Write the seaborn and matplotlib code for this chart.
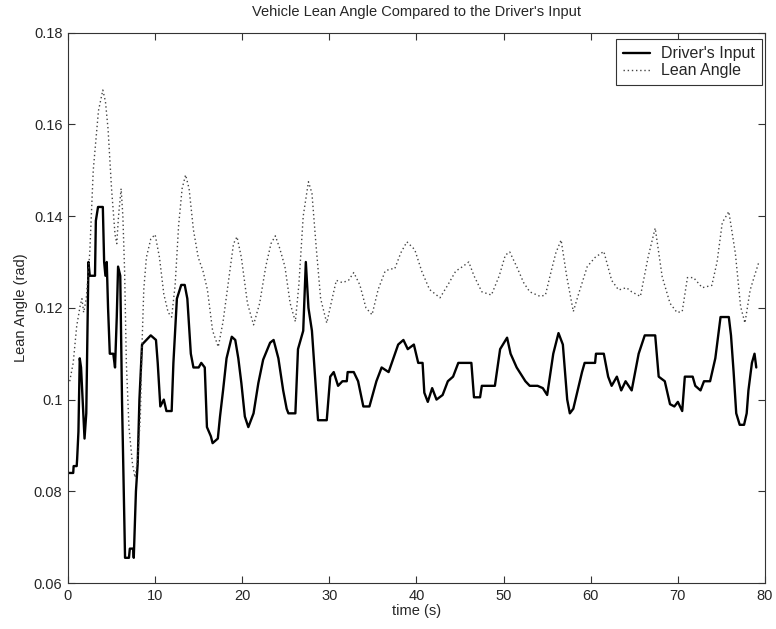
import matplotlib
matplotlib.use("Agg")
import matplotlib.pyplot as plt
import pandas as pd
import seaborn as sns

# Driver's input (solid)
drv_t = [0, 0.6, 0.65, 1.0, 1.05, 1.2, 1.35, 1.5, 1.9, 2.1, 2.35, 2.5, 3.1, 3.2, 3.45, 4.0,
         4.15, 4.3, 4.45, 4.6, 4.8, 5.2, 5.4, 5.6, 5.75, 6.0, 6.2, 6.55, 7.0, 7.1, 7.5, 7.55,
         7.8, 8.0, 8.2, 8.5, 9.0, 9.5, 10.1, 10.3, 10.6, 11.0, 11.3, 11.9, 12.1, 12.5, 13.0,
         13.4, 13.7, 14.1, 14.4, 15.0, 15.3, 15.7, 15.95, 16.4, 16.6, 17.2, 17.45, 17.8, 18.2,
         18.8, 19.2, 19.55, 19.9, 20.3, 20.7, 21.3, 21.85, 22.4, 23.2, 23.6, 24.15, 24.7, 25.1,
         25.3, 26.1, 26.4, 27.0, 27.3, 27.6, 28.0, 28.7, 29.7, 30.1, 30.5, 31.0, 31.5, 32.0,
         32.1, 32.8, 33.3, 33.9, 34.6, 35.4, 36.0, 36.8, 37.9, 38.5, 39.0, 39.7, 40.2, 40.7,
         40.9, 41.3, 41.8, 42.3, 43.0, 43.6, 44.2, 44.8, 46.3, 46.6, 47.3, 47.5, 49.0, 49.6,
         50.4, 50.8, 51.5, 52.5, 53.0, 53.9, 54.5, 55.0, 55.7, 56.3, 56.8, 57.3, 57.6, 58.0,
         58.5, 59.0, 59.3, 60.5, 60.6, 61.5, 62.0, 62.4, 63.0, 63.5, 64.0, 64.7, 65.5, 66.2,
         67.4, 67.8, 68.5, 69.1, 69.6, 70.0, 70.5, 70.8, 71.7, 72.0, 72.6, 73.0, 73.7, 74.3,
         74.9, 75.85, 76.1, 76.4, 76.7, 77.1, 77.6, 77.9, 78.1, 78.5, 78.8, 79.0]
drv_v = [0.084, 0.084, 0.0855, 0.0855, 0.087, 0.093, 0.109, 0.107, 0.0915, 0.097, 0.130, 0.127,
         0.127, 0.139, 0.142, 0.142, 0.130, 0.127, 0.130, 0.120, 0.110, 0.110, 0.107, 0.118,
         0.129, 0.127, 0.100, 0.0655, 0.0655, 0.0675, 0.0675, 0.0655, 0.080, 0.086, 0.100,
         0.112, 0.113, 0.114, 0.113, 0.108, 0.0985, 0.100, 0.0975, 0.0975, 0.108, 0.122, 0.125,
         0.125, 0.122, 0.110, 0.107, 0.107, 0.108, 0.107, 0.094, 0.092, 0.0905, 0.0915, 0.0963,
         0.102, 0.109, 0.1137, 0.113, 0.109, 0.1036, 0.0963, 0.094, 0.097, 0.1036, 0.1087,
         0.1124, 0.113, 0.109, 0.102, 0.098, 0.097, 0.097, 0.111, 0.115, 0.130, 0.120, 0.115,
         0.0955, 0.0955, 0.105, 0.106, 0.103, 0.104, 0.104, 0.106, 0.106, 0.104, 0.0985,
         0.0985, 0.104, 0.107, 0.106, 0.112, 0.113, 0.111, 0.112, 0.108, 0.108, 0.1015, 0.0995,
         0.1025, 0.100, 0.101, 0.104, 0.105, 0.108, 0.108, 0.1005, 0.1005, 0.103, 0.103, 0.111,
         0.1135, 0.110, 0.107, 0.104, 0.103, 0.103, 0.1025, 0.101, 0.110, 0.1145, 0.112, 0.100,
         0.097, 0.098, 0.102, 0.106, 0.108, 0.108, 0.110, 0.110, 0.105, 0.103, 0.105, 0.102,
         0.104, 0.102, 0.110, 0.114, 0.114, 0.105, 0.104, 0.099, 0.0985, 0.0995, 0.0975, 0.105,
         0.105, 0.103, 0.102, 0.104, 0.104, 0.109, 0.118, 0.118, 0.114, 0.106, 0.097, 0.0945,
         0.0945, 0.097, 0.102, 0.108, 0.110, 0.107]

# Lean angle (dotted)
lean_t = [0.2, 0.6, 1.0, 1.4, 1.6, 1.8, 2.1, 2.5, 2.9, 3.5, 4.0, 4.3, 4.6, 5.0, 5.4, 5.6, 5.8,
          6.1, 6.3, 6.5, 6.7, 7.0, 7.4, 7.7, 8.0, 8.3, 8.5, 8.7, 9.0, 9.5, 10.0, 10.5, 11.0,
          11.5, 11.9, 12.3, 12.7, 13.1, 13.5, 13.9, 14.4, 14.95, 15.5, 16.0, 16.6, 17.25, 17.8,
          18.5, 19.0, 19.4, 19.9, 20.6, 21.3, 22.0, 22.7, 23.3, 23.8, 24.3, 24.9, 25.5, 26.1,
          26.5, 27.0, 27.6, 28.0, 28.5, 29.0, 29.7, 30.2, 30.8, 31.5, 32.2, 32.8, 33.5, 34.2,
          34.9, 35.6, 36.4, 37.0, 37.5, 38.2, 38.9, 39.8, 40.6, 41.5, 42.7, 43.6, 44.5, 45.3,
          46.0, 46.6, 47.5, 48.6, 49.5, 50.2, 50.7, 51.5, 52.3, 53.0, 54.2, 54.8, 55.5, 56.0,
          56.6, 57.25, 58.0, 58.6, 59.6, 60.5, 61.5, 62.4, 63.2, 64.1, 64.7, 65.7, 66.6, 67.4,
          68.2, 69.1, 69.9, 70.5, 71.1, 71.8, 72.8, 73.9, 74.5, 75.1, 75.85, 76.6, 77.2, 77.7,
          78.3, 78.8, 79.3]
lean_v = [0.104, 0.108, 0.116, 0.1205, 0.122, 0.119, 0.122, 0.132, 0.150, 0.163, 0.1675, 0.165,
          0.159, 0.146, 0.136, 0.134, 0.140, 0.146, 0.140, 0.128, 0.108, 0.094, 0.086, 0.083,
          0.087, 0.096, 0.112, 0.124, 0.131, 0.135, 0.136, 0.131, 0.123, 0.119, 0.118, 0.125,
          0.138, 0.146, 0.149, 0.146, 0.137, 0.131, 0.128, 0.124, 0.115, 0.1115, 0.117, 0.127,
          0.134, 0.1355, 0.131, 0.121, 0.1163, 0.121, 0.129, 0.134, 0.1357, 0.133, 0.129, 0.121,
          0.117, 0.125, 0.140, 0.1475, 0.145, 0.133, 0.122, 0.1167, 0.121, 0.126, 0.1255, 0.126,
          0.1277, 0.125, 0.120, 0.1185, 0.124, 0.128, 0.1285, 0.1285, 0.132, 0.1344, 0.1327,
          0.128, 0.124, 0.1222, 0.125, 0.128, 0.129, 0.130, 0.127, 0.1235, 0.1228, 0.127,
          0.1315, 0.1322, 0.129, 0.1255, 0.1235, 0.1225, 0.1228, 0.1283, 0.132, 0.1348, 0.1268,
          0.1192, 0.123, 0.129, 0.131, 0.1323, 0.126, 0.1239, 0.1244, 0.1235, 0.1225, 0.1312,
          0.1374, 0.1268, 0.121, 0.119, 0.1192, 0.1266, 0.1266, 0.1244, 0.1249, 0.130, 0.1386,
          0.141, 0.1319, 0.1203, 0.1167, 0.1239, 0.127, 0.130]

x_ticks = [0, 10, 20, 30, 40, 50, 60, 70, 80]
y_ticks = [0.06, 0.08, 0.1, 0.12, 0.14, 0.16, 0.18]
y_labels = ["0.06", "0.08", "0.1", "0.12", "0.14", "0.16", "0.18"]

sns.set_style("ticks")
plt.rcParams['font.family'] = ['Liberation Sans', 'DejaVu Sans']
plt.rcParams['xtick.direction'] = 'in'
plt.rcParams['ytick.direction'] = 'in'

drv = pd.DataFrame({"t": drv_t, "v": drv_v})
lean = pd.DataFrame({"t": lean_t, "v": lean_v})

fig = plt.figure(figsize=(7.76, 6.29), dpi=100)
ax = fig.add_axes([0.0876, 0.0731, 0.8982, 0.8749])

sns.lineplot(data=drv, x="t", y="v", ax=ax, color="black", linewidth=1.7,
             estimator=None, sort=False, label="Driver's Input")
sns.lineplot(data=lean, x="t", y="v", ax=ax, color="#444444", linewidth=1.0,
             linestyle=(0, (1, 2)), estimator=None, sort=False, label="Lean Angle")

ax.set_xlim(0, 80)
ax.set_ylim(0.06, 0.18)
ax.set_xticks(x_ticks)
ax.set_yticks(y_ticks)
ax.set_yticklabels(y_labels)
ax.tick_params(axis="both", which="both", top=True, right=True, length=5,
               width=0.8, labelsize=10.5, pad=4, color="#333333")
for s in ax.spines.values():
    s.set_linewidth(0.8)
    s.set_color("#333333")

ax.set_xlabel("time (s)", fontsize=10.5, labelpad=1)
ax.set_ylabel("Lean Angle (rad)", fontsize=10.5, labelpad=4)
ax.set_title("Vehicle Lean Angle Compared to the Driver's Input", fontsize=10.5, pad=12)

leg = ax.legend(loc="upper right", bbox_to_anchor=(0.996, 0.988), borderaxespad=0,
                fontsize=11.5, fancybox=False, framealpha=1, edgecolor="#333333",
                handlelength=1.7, handletextpad=0.7, borderpad=0.45, labelspacing=0.1)
leg.get_frame().set_linewidth(0.8)

fig.savefig("out.png", dpi=100)
